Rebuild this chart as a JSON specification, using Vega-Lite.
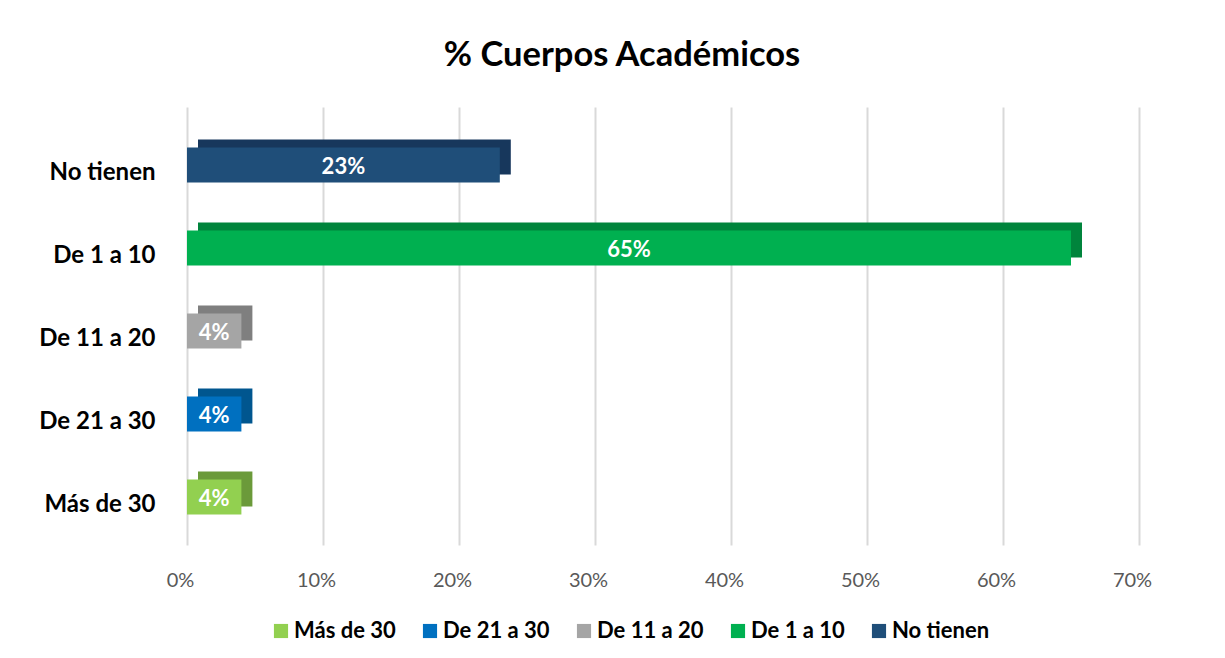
{
  "$schema": "https://vega.github.io/schema/vega-lite/v6.json",
  "autosize": {"type": "none"},
  "padding": {"left": 187, "top": 107, "right": 86, "bottom": 113},
  "width": 952,
  "height": 438,
  "background": "white",
  "title": {
    "text": "% Cuerpos Académicos",
    "font": "Lato",
    "fontSize": 34.5,
    "fontWeight": "bold",
    "color": "#000000",
    "anchor": "middle",
    "dx": -41,
    "baseline": "alphabetic",
    "offset": 7
  },
  "data": {
    "values": [
      {"categoria": "No tienen", "porcentaje": 0.23},
      {"categoria": "De 1 a 10", "porcentaje": 0.65},
      {"categoria": "De 11 a 20", "porcentaje": 0.04},
      {"categoria": "De 21 a 30", "porcentaje": 0.04},
      {"categoria": "Más de 30", "porcentaje": 0.04}
    ]
  },
  "config": {
    "view": {"stroke": null},
    "font": "Lato"
  },
  "encoding": {
    "y": {
      "field": "categoria",
      "type": "nominal",
      "sort": ["No tienen", "De 1 a 10", "De 11 a 20", "De 21 a 30", "Más de 30"],
      "scale": {"paddingInner": 0.58, "paddingOuter": 0.4285, "align": 0.571},
      "axis": {
        "title": null,
        "domain": false,
        "ticks": false,
        "labelPadding": 32,
        "labelFont": "Lato",
        "labelFontSize": 24,
        "labelFontWeight": "bold",
        "labelColor": "#000000",
        "labelOffset": 8
      }
    }
  },
  "layer": [
    {
      "mark": {"type": "bar", "xOffset": 11, "yOffset": -8},
      "encoding": {
        "x": {
          "field": "porcentaje",
          "type": "quantitative",
          "scale": {"domain": [0, 0.7]},
          "axis": {
            "title": null,
            "format": ".0%",
            "values": [0, 0.1, 0.2, 0.3, 0.4, 0.5, 0.6, 0.7],
            "domain": false,
            "ticks": false,
            "grid": true,
            "gridColor": "#d9d9d9",
            "gridWidth": 2,
            "labelPadding": 25,
            "labelOffset": -7,
            "labelFont": "Lato",
            "labelFontSize": 20,
            "labelColor": "#595959",
            "labelFlush": false
          }
        },
        "color": {
          "field": "categoria",
          "type": "nominal",
          "legend": null,
          "scale": {
            "domain": ["Más de 30", "De 21 a 30", "De 11 a 20", "De 1 a 10", "No tienen"],
            "range": ["#6b9a3a", "#00568f", "#7f7f7f", "#00843c", "#17375c"]
          }
        }
      }
    },
    {
      "mark": {"type": "bar"},
      "encoding": {
        "x": {"field": "porcentaje", "type": "quantitative", "scale": {"domain": [0, 0.7]}, "axis": null},
        "color": {
          "field": "categoria",
          "type": "nominal",
          "scale": {
            "domain": ["Más de 30", "De 21 a 30", "De 11 a 20", "De 1 a 10", "No tienen"],
            "range": ["#92d050", "#0070c0", "#a5a5a5", "#00b050", "#1f4e79"]
          },
          "legend": {
            "title": null,
            "orient": "none",
            "direction": "horizontal",
            "legendX": 83,
            "legendY": 513,
            "symbolType": "square",
            "symbolSize": 200,
            "symbolStrokeWidth": 0,
            "symbolOpacity": 1,
            "labelFont": "Lato",
            "labelFontSize": 22,
            "labelFontWeight": "bold",
            "labelColor": "#000000",
            "columnPadding": 23,
            "labelOffset": 2
          }
        }
      }
    },
    {
      "mark": {"type": "text", "color": "white", "fontWeight": "bold", "fontSize": 22, "font": "Lato", "baseline": "middle", "align": "center", "dy": 2},
      "encoding": {
        "x": {"field": "porcentaje", "type": "quantitative", "scale": {"domain": [0, 1.4]}, "axis": null},
        "text": {"field": "porcentaje", "type": "quantitative", "format": ".0%"}
      }
    }
  ],
  "resolve": {"scale": {"color": "independent", "x": "independent"}}
}
